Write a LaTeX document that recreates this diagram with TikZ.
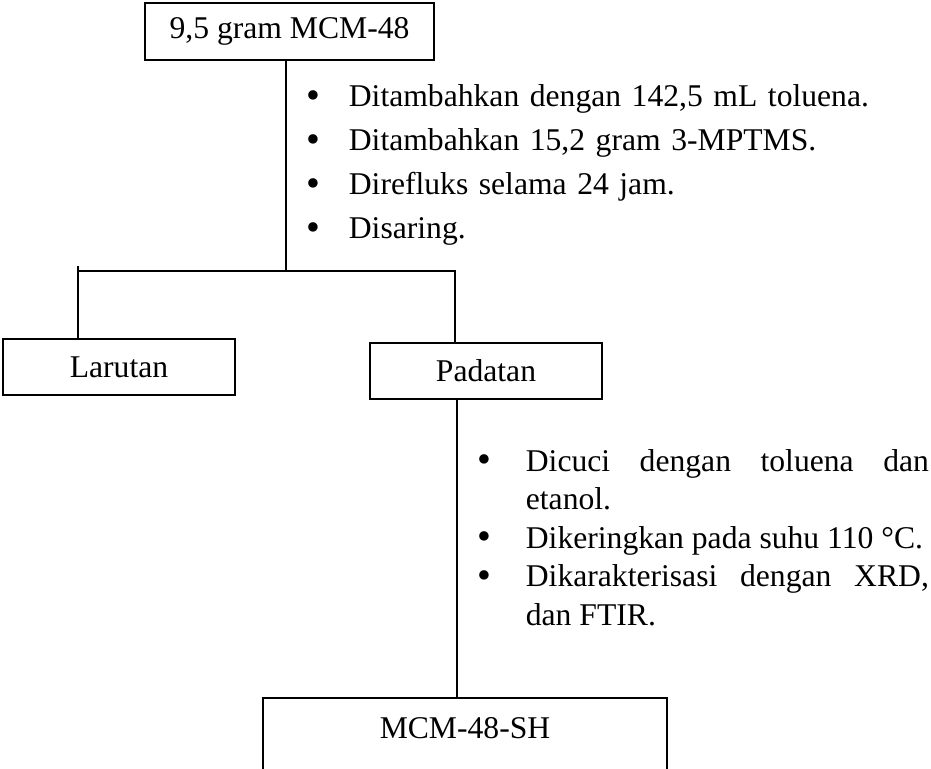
\documentclass[tikz,border=0pt]{standalone}
\usepackage{fontspec}
\setmainfont{Liberation Serif}
\usetikzlibrary{positioning, calc}

% bullet item with hanging indent
\newlength{\butirindent}
\newlength{\butirgeser}
\setlength{\butirindent}{1.65cm}
\setlength{\butirgeser}{0.2cm}
\newcommand{\titik}{\raisebox{-0.06em}{\scalebox{1.25}{\textbullet}}}
\newcommand{\butir}[1]{\hangindent=\butirindent\hangafter=1\noindent\makebox[\butirindent][l]{\hspace{\butirgeser}\titik}#1\par}

\begin{document}
\begin{tikzpicture}[
    x=0.03cm, y=-0.03cm,
    line width=1.5pt,
    kotak/.style={draw, minimum width=#1, minimum height=1.7cm, inner sep=0pt, font=\fontsize{27}{32}\selectfont},
    hasil/.style={kotak=#1, anchor=north, minimum height=0pt, text height=1.23cm, text depth=2.5cm},
    langkah/.style={inner sep=0pt, anchor=base west, font=\fontsize{27}{37.5}\selectfont},
]

\useasboundingbox (0,0) rectangle (931,769);
\clip (0,0) rectangle (931,769);

% ── Boxes ──
\node[kotak=8.67cm] (awal) at (289.5, 31.5) {9,5 gram MCM-48};
\node[kotak=6.96cm] (larutan) at (119, 367) {Larutan};
\node[kotak=6.96cm] (padatan) at (486, 371) {Padatan};
\node[hasil=12.12cm] (produk) at (465, 697) {MCM-48-SH};

% ── Branch points ──
\coordinate (cabang) at (286, 271);
\coordinate (ujungkiri) at (78, 266);
\coordinate (ujungkanan) at (455, 270);
\coordinate (turun) at (457, 400);

% ── Steps ──
\node[langkah, text width=18.9cm, align=left] (proses1) at (299, 107) {%
  \setlength{\butirindent}{1.47cm}%
  \butir{Ditambahkan dengan 142,5 mL toluena.}
  \butir{Ditambahkan 15,2 gram 3-MPTMS.}
  \butir{Direfluks selama 24 jam.}
  \butir{Disaring.}};
\node[langkah, text width=13.74cm, align=justify, font=\fontsize{27}{32.9}\selectfont] (proses2) at (470, 471) {%
  \butir{Dicuci dengan toluena dan etanol.}
  \butir{Dikeringkan pada suhu 110 °C.}
  \butir{Dikarakterisasi dengan XRD, dan FTIR.}};

% ── Lines ──
\draw (awal.south -| cabang) -- (cabang);
\draw (ujungkiri |- cabang) -- (ujungkanan |- cabang);
\draw (ujungkiri) -- (ujungkiri |- larutan.north);
\draw (ujungkanan) -- (ujungkanan |- padatan.north);
\draw (padatan.south -| turun) -- (turun |- produk.north);

\end{tikzpicture}
\end{document}
